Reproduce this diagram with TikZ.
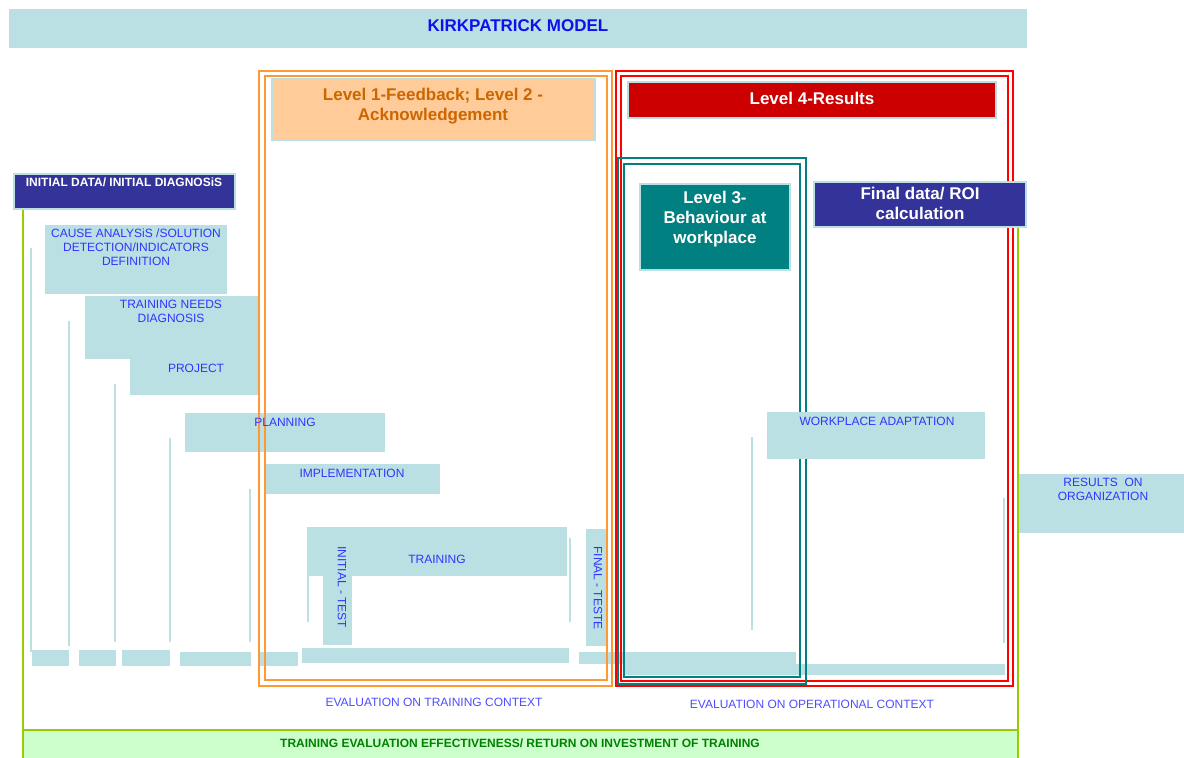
\documentclass[tikz,border=0pt]{standalone}
\usepackage{fontspec}
\setmainfont{Liberation Sans}
\definecolor{lightbox}{HTML}{BAE0E3}
\definecolor{navybox}{HTML}{333399}
\definecolor{tealbox}{HTML}{008080}
\definecolor{redbox}{HTML}{CC0000}
\definecolor{peachbox}{HTML}{FFCC99}
\definecolor{framegreen}{HTML}{99CC00}
\definecolor{bandgreen}{HTML}{CCFFCC}
\definecolor{textgreen}{HTML}{008000}
\definecolor{textblue}{HTML}{3333FF}
\definecolor{evalblue}{HTML}{4D4DFF}
\definecolor{titleblue}{HTML}{1010EE}
\definecolor{orangeframe}{HTML}{FF9933}
\definecolor{redframe}{HTML}{FF0000}
\definecolor{levelbrown}{HTML}{CC6600}
\tikzset{
  lbl/.style={text=textblue, font=\fontsize{12}{14}\selectfont, align=center, inner sep=0},
  evallbl/.style={text=evalblue, font=\fontsize{12}{14}\selectfont, inner sep=0},
  lvllbl/.style={text=white, font=\bfseries\fontsize{17}{20}\selectfont, align=center, inner sep=0},
  stem/.style={draw=lightbox, line width=2pt},
  dbl/.style={line width=2pt},
  lvlbox/.style={draw=lightbox, line width=1.5pt}
}
\begin{document}
\begin{tikzpicture}[x=1pt,y=-1pt]
    \useasboundingbox (0,0) rectangle (1184,758);
    % title bar
    \fill[lightbox] (9,9) rectangle (1027,48);
    % process boxes
    \fill[lightbox] (45,225) rectangle (227,294);
    \fill[lightbox] (85,296) rectangle (258,359);
    \fill[lightbox] (130,359) rectangle (258,395);
    \fill[lightbox] (185,413) rectangle (385,452);
    \fill[lightbox] (266,464) rectangle (440,494);
    \fill[lightbox] (307,527) rectangle (567,576);
    \fill[lightbox] (323,570) rectangle (352,645);
    \fill[lightbox] (586,529) rectangle (606,646);
    \fill[lightbox] (1019,474) rectangle (1184,533);
    % stems
    \foreach \sx/\sy/\ey in {31/248/652, 69/321/646, 115/384/642, 170/438/642, 250/489/642,
                             308/540/622, 570/538/622, 752/437/630, 1004/498/643}
        \draw[stem] (\sx,\sy) -- (\sx,\ey);
    % bottom strips
    \foreach \ax/\ay/\bx/\by in {32/650/69/666, 79/650/116/666, 122/650/170/666, 180/652/251/666,
                                 259/652/298/666, 302/648/569/663, 579/652/796/664, 624/664/1005/675}
        \fill[lightbox] (\ax,\ay) rectangle (\bx,\by);
    % green frame
    \fill[bandgreen] (23,730) rectangle (1018,758);
    \draw[framegreen, dbl] (23,209) -- (23,758);
    \draw[framegreen, dbl] (1018,228) -- (1018,758);
    \draw[framegreen, dbl] (23,730) -- (1018,730);
    % evaluation frames
    \draw[orangeframe, dbl] (259,71) rectangle (612,686);
    \draw[orangeframe, dbl] (265,76) rectangle (607,680);
    \draw[redframe, dbl] (616,71) rectangle (1013,686);
    \draw[redframe, dbl] (621,76) rectangle (1008,681);
    \draw[tealbox, line width=2.5pt] (618,158) rectangle (806,684);
    \draw[tealbox, line width=2.5pt] (624,164) rectangle (800,677);
    % level boxes
    \filldraw[navybox, lvlbox] (14,174) rectangle (235,209);
    \filldraw[peachbox, lvlbox] (272,79) rectangle (595,140);
    \filldraw[redbox, lvlbox] (628,82) rectangle (996,118);
    \filldraw[tealbox, lvlbox] (640,184) rectangle (790,270);
    \filldraw[navybox, lvlbox] (814,182) rectangle (1026,227);
    \fill[lightbox] (767,412) rectangle (985,459);
    % texts
    \node[text=titleblue, font=\bfseries\fontsize{17}{20}\selectfont] (title) at (518,26) {KIRKPATRICK MODEL};
    \node[text=white, font=\bfseries\fontsize{12}{14}\selectfont, inner sep=0] (initial) at (124,182) {INITIAL DATA/ INITIAL DIAGNOSiS};
    \node[lbl] (cause) at (136,247) {CAUSE ANALYSiS /SOLUTION\\DETECTION/INDICATORS\\DEFINITION};
    \node[lbl] (needs) at (171,311) {TRAINING NEEDS\\DIAGNOSIS};
    \node[lbl] (project) at (196,368) {PROJECT};
    \node[lbl] (planning) at (285,422) {PLANNING};
    \node[lbl] (implementation) at (352,473) {IMPLEMENTATION};
    \node[lbl] (training) at (437,559) {TRAINING};
    \node[lbl, rotate=-90] (pretest) at (342,587) {INITIAL - TEST};
    \node[lbl, rotate=-90] (posttest) at (598,588) {FINAL - TESTE};
    \node[lbl] (adaptation) at (877,421) {WORKPLACE ADAPTATION};
    \node[lbl] (organization) at (1103,489) {RESULTS\ \ ON\\ORGANIZATION};
    \node[lvllbl, text=levelbrown] (levelone) at (433,106) {Level 1-Feedback; Level 2 -\\Acknowledgement};
    \node[lvllbl] (levelfour) at (812,98) {Level 4-Results};
    \node[lvllbl] (levelthree) at (715,219) {Level 3-\\Behaviour at\\workplace};
    \node[lvllbl] (roi) at (920,203) {Final data/ ROI\\calculation};
    \node[evallbl] (trainctx) at (434,702) {EVALUATION ON TRAINING CONTEXT};
    \node[evallbl] (operctx) at (812,704) {EVALUATION ON OPERATIONAL CONTEXT};
    \node[text=textgreen, font=\bfseries\fontsize{12}{14}\selectfont, inner sep=0] (effectiveness) at (520,743)
        {TRAINING EVALUATION EFFECTIVENESS/ RETURN ON INVESTMENT OF TRAINING};
\end{tikzpicture}
\end{document}
